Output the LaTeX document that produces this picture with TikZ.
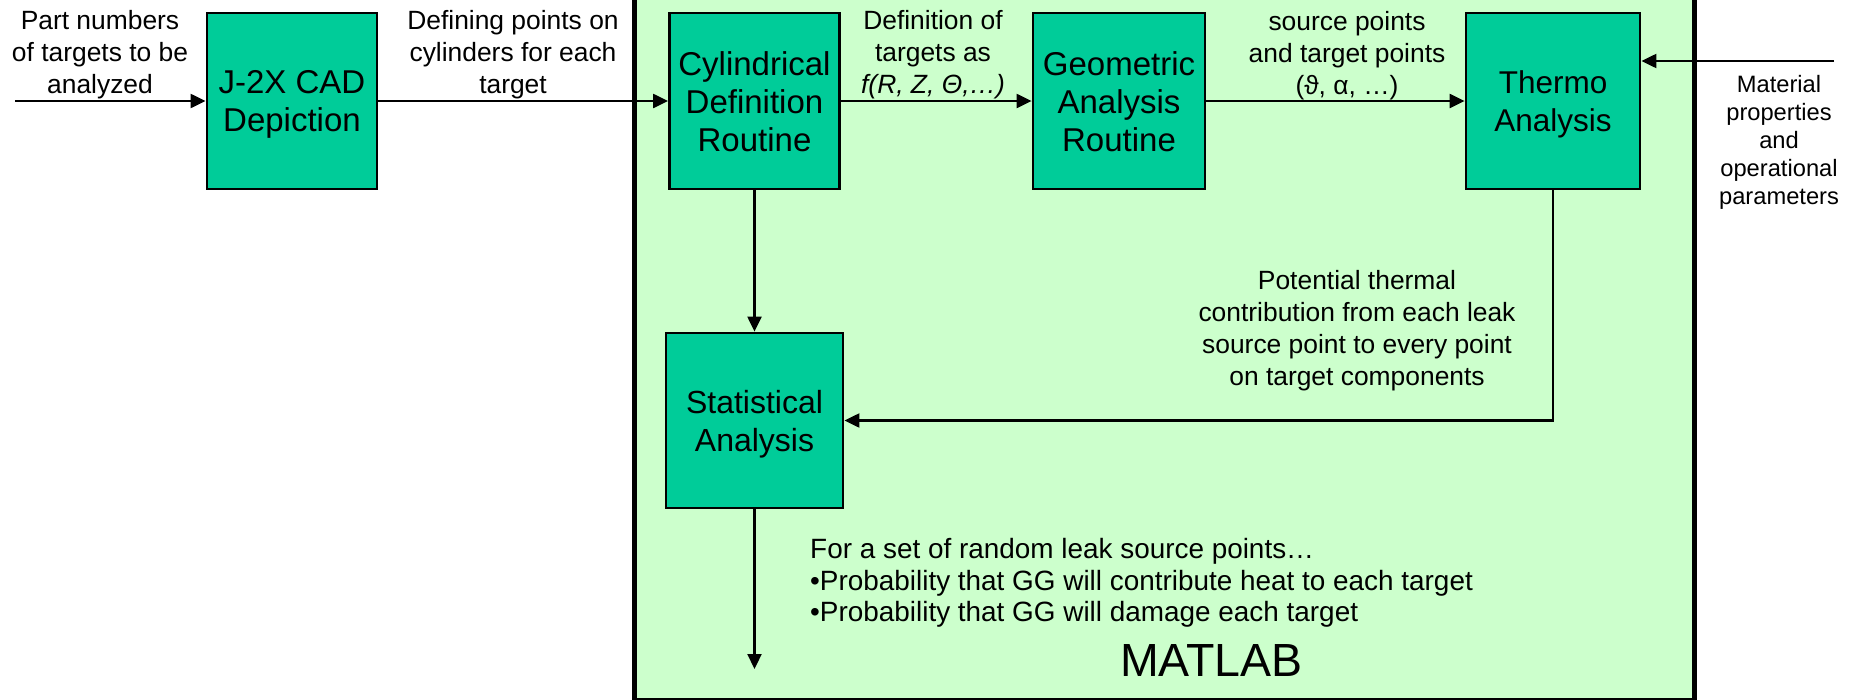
\documentclass[tikz,border=0pt]{standalone}
\usepackage{fontspec}
\setmainfont{Liberation Sans}
\usetikzlibrary{arrows.meta}
\definecolor{boxgreen}{HTML}{00CC99}
\definecolor{bggreen}{HTML}{CCFFCC}
\newcommand{\topstrut}{\rule{0pt}{30pt}}
\newcommand{\smallstrut}{\rule{0pt}{25pt}}
\begin{document}
\begin{tikzpicture}[x=1pt,y=-1pt,
  proc/.style={draw=black, line width=2.8pt, fill=boxgreen, minimum width=170pt, minimum height=176pt, inner sep=0pt, align=center, font=\fontsize{33}{37.7}\selectfont},
  lbl/.style={inner sep=0pt, align=center, font=\fontsize{26.4}{32}\selectfont, anchor=north},
  conn/.style={line width=2.2pt, -{Triangle[length=15pt,width=14pt]}},
  container/.style={draw=black, line width=5pt, fill=bggreen, inner sep=0pt}
]
\path[use as bounding box, clip] (0,0) rectangle (1858,699);
% MATLAB container
\node[container, minimum width=1060.5pt, minimum height=730pt] (matlab) at (1164.25,335.5) {};
% process boxes
\node[proc] (cad) at (292,101) {\topstrut J-2X CAD\\Depiction};
\node[proc] (cyl) at (754.5,101) {\smallstrut Cylindrical\\Definition\\Routine};
\node[proc, minimum width=172pt] (geo) at (1119,101) {\smallstrut Geometric\\Analysis\\Routine};
\node[proc, minimum width=174pt, font=\fontsize{31.5}{37.7}\selectfont] (thermo) at (1553,101) {\topstrut Thermo\\Analysis};
\node[proc, minimum width=177pt, minimum height=175pt, font=\fontsize{32}{37.7}\selectfont] (stat) at (754.5,420.5) {\topstrut Statistical\\Analysis};
% connectors
\coordinate (in) at (15,101);
\coordinate (matin) at (1834,61);
\coordinate (out) at (754.5,669);
\draw[conn] (in) -- (cad.west);
\draw[conn] (cad.east) -- (cyl.west);
\draw[conn] (cyl.east) -- (geo.west);
\draw[conn] (geo.east) -- (thermo.west);
\draw[conn] (matin) -- (matin -| thermo.east);
\draw[conn] (cyl.south) -- (stat.north);
\draw[conn] (thermo.south) |- (stat.east);
\draw[conn] (stat.south) -- (out);
% labels
\node[lbl] (l1) at (100,10) {Part numbers\\of targets to be\\analyzed};
\node[lbl] (l2) at (513,10) {Defining points on\\cylinders for each\\target};
\node[lbl] (l3) at (933,10) {Definition of\\targets as\\\textit{f(R, Z, Θ,…)}};
\node[lbl] (l4) at (1347,11) {source points\\and target points\\(ϑ, α, …)};
\node[lbl] (l5) at (1357,270) {Potential thermal\\contribution from each leak\\source point to every point\\on target components};
\node[lbl, font=\fontsize{23.7}{28}\selectfont] (l6) at (1779,75) {Material\\properties\\and\\operational\\parameters};
\node[lbl, align=left, anchor=north west, font=\fontsize{27.9}{31.6}\selectfont] (l7) at (810,538) {For a set of random leak source points…\\•Probability that GG will contribute heat to each target\\•Probability that GG will damage each target};
\node[inner sep=0pt, anchor=base, font=\fontsize{46.5}{50}\selectfont] (ml) at (1211.5,676) {MATLAB};
\end{tikzpicture}
\end{document}
